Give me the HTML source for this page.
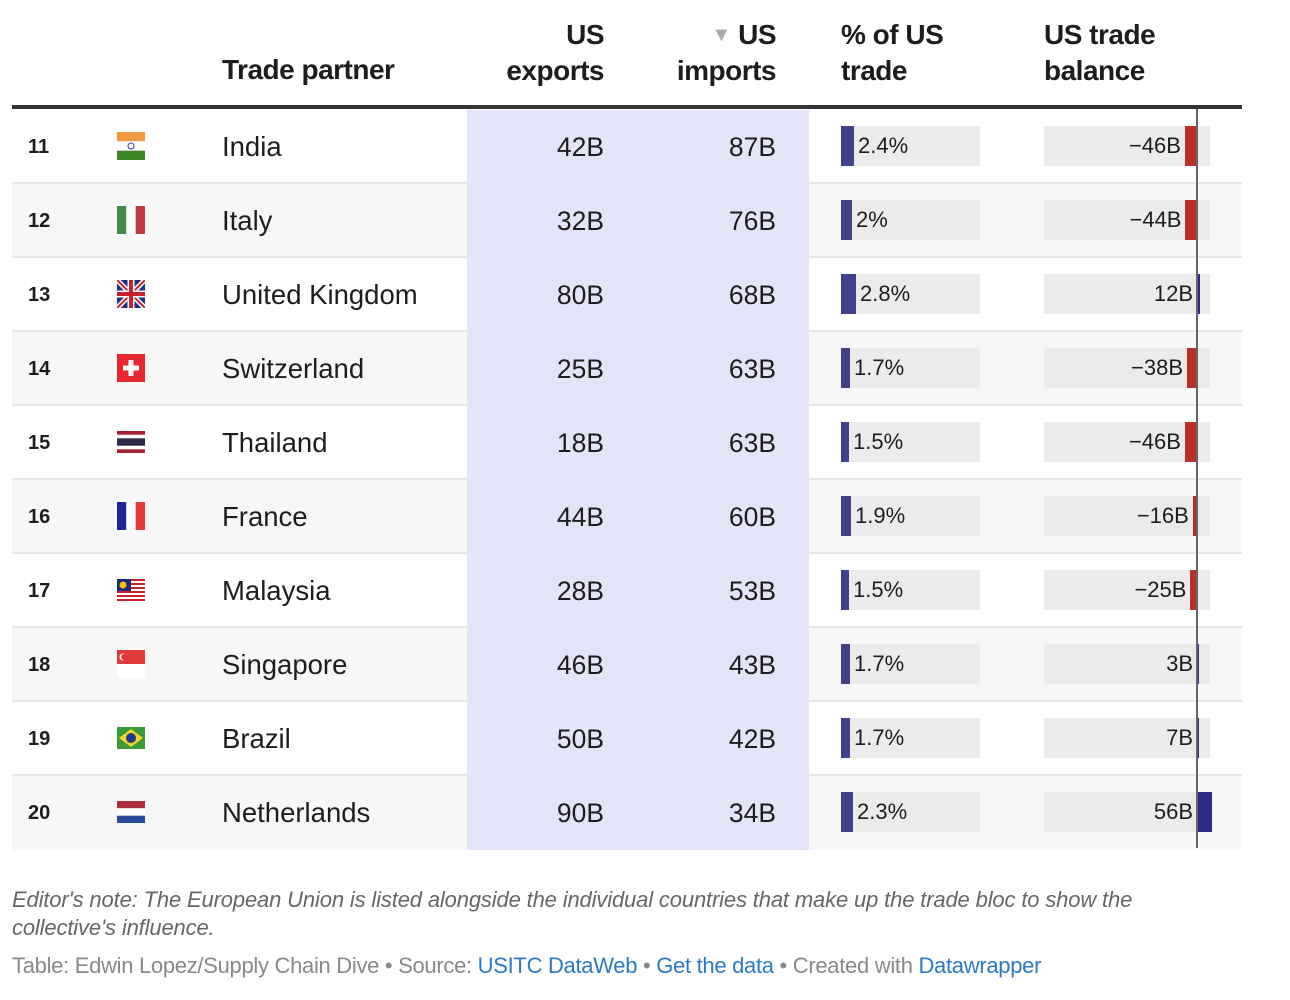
<!DOCTYPE html>
<html><head><meta charset="utf-8"><style>
body{margin:0;background:#fff;width:1290px;height:1000px;position:relative;font-family:"Liberation Sans",Arial,sans-serif;color:#1d1d1d;overflow:hidden}
.a{position:absolute}
.h{font-weight:bold;font-size:28px;line-height:36px;letter-spacing:-0.5px;white-space:nowrap}
.row{position:absolute;left:12px;width:1230px;height:74px}
.t{position:absolute;line-height:74px;font-size:26.5px;top:0}
.rk{left:16px;font-weight:bold;font-size:20px}
.nm{left:210px;font-size:27.5px}
.ex{right:638px;text-align:right}
.im{right:466px;text-align:right}
.band{position:absolute;left:455px;top:0;width:342px;height:74px;background:#e4e4f8}
.pb{position:absolute;left:829px;top:16px;width:139px;height:40px;background:#ebebeb}
.pf{position:absolute;left:0;top:0;height:40px;background:#43418a}
.pt{position:absolute;top:0;line-height:40px;font-size:22px}
.bb{position:absolute;left:1032px;top:16px;width:166px;height:40px;background:#ebebeb}
.bf{position:absolute;top:0;height:40px}
.bt{position:absolute;top:0;line-height:40px;font-size:22px;text-align:right;white-space:nowrap}
.fl{position:absolute;left:105px;top:22px;width:28px;height:28px}
</style></head><body>
<div class="a h" style="left:222px;top:52px">Trade partner</div>
<div class="a h" style="right:686px;top:17px;text-align:right">US<br>exports</div>
<div class="a h" style="right:514px;top:17px;text-align:right;height:36px"><span style="color:#aaa;font-size:20px;line-height:20px;vertical-align:top;position:relative;top:8px">▼</span> US</div>
<div class="a h" style="right:514px;top:53px;text-align:right">imports</div>
<div class="a h" style="left:841px;top:17px">% of US<br>trade</div>
<div class="a h" style="left:1044px;top:17px">US trade<br>balance</div>
<div class="a" style="left:12px;top:105px;width:1230px;height:4px;background:#333"></div>

<div id="rows"></div>
<div class="a" style="left:1196px;top:109px;width:2px;height:739px;background:#666"></div>

<div class="a" style="left:12px;top:886px;font-size:22px;line-height:28px;font-style:italic;color:#666;width:1230px;letter-spacing:-0.15px">Editor's note: The European Union is listed alongside the individual countries that make up the trade bloc to show the collective's influence.</div>
<div class="a" style="left:12px;top:953px;font-size:22px;line-height:26px;color:#888;white-space:nowrap;letter-spacing:-0.3px">Table: Edwin Lopez/Supply Chain Dive • Source: <span style="color:#2a7ac8">USITC DataWeb</span> • <span style="color:#2a7ac8">Get the data</span> • Created with <span style="color:#2a7ac8">Datawrapper</span></div>

<script>
var d=[[11,'India','42B','87B',2.4,'2.4%',-46,'in'],[12,'Italy','32B','76B',2,'2%',-44,'it'],[13,'United Kingdom','80B','68B',2.8,'2.8%',12,'uk'],[14,'Switzerland','25B','63B',1.7,'1.7%',-38,'ch'],[15,'Thailand','18B','63B',1.5,'1.5%',-46,'th'],[16,'France','44B','60B',1.9,'1.9%',-16,'fr'],[17,'Malaysia','28B','53B',1.5,'1.5%',-25,'my'],[18,'Singapore','46B','43B',1.7,'1.7%',3,'sg'],[19,'Brazil','50B','42B',1.7,'1.7%',7,'br'],[20,'Netherlands','90B','34B',2.3,'2.3%',56,'nl']];
function flag(c){
var s='<svg class="fl" viewBox="0 0 28 28">';
if(c=='in')s+='<rect y="0" width="28" height="9.3" fill="#f0993e"/><rect y="9.3" width="28" height="9.4" fill="#fff"/><rect y="18.7" width="28" height="9.3" fill="#3c8424"/><circle cx="14" cy="14" r="3" fill="none" stroke="#3b3b9b" stroke-width="1"/>';
else if(c=='it')s+='<rect width="9.3" height="28" fill="#3e8e4a"/><rect x="9.3" width="9.4" height="28" fill="#fff"/><rect x="18.7" width="9.3" height="28" fill="#c0373c"/>';
else if(c=='fr')s+='<rect width="9.3" height="28" fill="#20259a"/><rect x="9.3" width="9.4" height="28" fill="#fff"/><rect x="18.7" width="9.3" height="28" fill="#e33a3a"/>';
else if(c=='uk')s+='<rect width="28" height="28" fill="#22307a"/><path d="M0 0L28 28M28 0L0 28" stroke="#fff" stroke-width="5"/><path d="M0 0L28 28M28 0L0 28" stroke="#c8202f" stroke-width="2"/><path d="M14 0V28M0 14H28" stroke="#fff" stroke-width="7"/><path d="M14 0V28M0 14H28" stroke="#c8202f" stroke-width="4"/>';
else if(c=='ch')s+='<rect width="28" height="28" fill="#e8262e"/><rect x="11.5" y="6" width="5" height="16" fill="#fff"/><rect x="6" y="11.5" width="16" height="5" fill="#fff"/>';
else if(c=='th')s+='<rect y="3" width="28" height="22" fill="#a42232"/><rect y="6.7" width="28" height="14.6" fill="#fff"/><rect y="10.3" width="28" height="7.4" fill="#2d2a4a"/>';
else if(c=='my')s+='<rect y="3" width="28" height="22" fill="#fff"/><g fill="#c8202f"><rect y="3" width="28" height="2"/><rect y="7" width="28" height="2"/><rect y="11" width="28" height="2"/><rect y="15" width="28" height="2"/><rect y="19" width="28" height="2"/><rect y="23" width="28" height="2"/></g><rect y="3" width="14" height="12" fill="#1c2a7a"/><circle cx="6" cy="9" r="3.5" fill="#f5c400"/>';
else if(c=='sg')s+='<rect y="0" width="28" height="14" fill="#e23a3a"/><rect y="14" width="28" height="14" fill="#fff"/><circle cx="6" cy="7" r="3.5" fill="#fff"/><circle cx="7.5" cy="7" r="3.3" fill="#e23a3a"/>';
else if(c=='br')s+='<rect y="3" width="28" height="22" fill="#3a9a3a"/><path d="M14 5L26 14L14 23L2 14Z" fill="#f3d42a"/><circle cx="14" cy="14" r="5" fill="#1f3a8a"/>';
else if(c=='nl')s+='<rect y="3" width="28" height="7.3" fill="#a8303a"/><rect y="10.3" width="28" height="7.4" fill="#fff"/><rect y="17.7" width="28" height="7.3" fill="#2a4a9a"/>';
return s+'</svg>';}
var h='';
d.forEach(function(r,i){
var top=110+74*i,bg=i%2?'#f7f7f7':'#fff';
var pw=Math.round(r[4]*5.4);
var bw=Math.abs(r[6])*0.262, neg=r[6]<0, z=153;
var bf=neg?'<div class="bf" style="left:'+(z-bw)+'px;width:'+bw+'px;background:#b8302a"></div>':'<div class="bf" style="left:'+z+'px;width:'+Math.max(bw,1.5)+'px;background:#2e2a8a"></div>';
var tr=neg?(166-z+bw+4):(166-z+4);
h+='<div class="row" style="top:'+top+'px;background:'+bg+';'+(i<9?'border-bottom:2px solid #e6e6e6;height:72px':'')+'">'
+'<div class="band"></div>'
+'<div class="t rk">'+r[0]+'</div>'+flag(r[7])
+'<div class="t nm">'+r[1]+'</div>'
+'<div class="t ex">'+r[2]+'</div><div class="t im">'+r[3]+'</div>'
+'<div class="pb"><div class="pf" style="width:'+pw+'px"></div><div class="pt" style="left:'+(pw+4)+'px">'+r[5]+'</div></div>'
+'<div class="bb">'+bf+'<div class="bt" style="right:'+tr+'px">'+(neg?'−':'')+Math.abs(r[6])+'B</div></div>'
+'</div>';});
document.getElementById('rows').innerHTML=h;
</script>
</body></html>
